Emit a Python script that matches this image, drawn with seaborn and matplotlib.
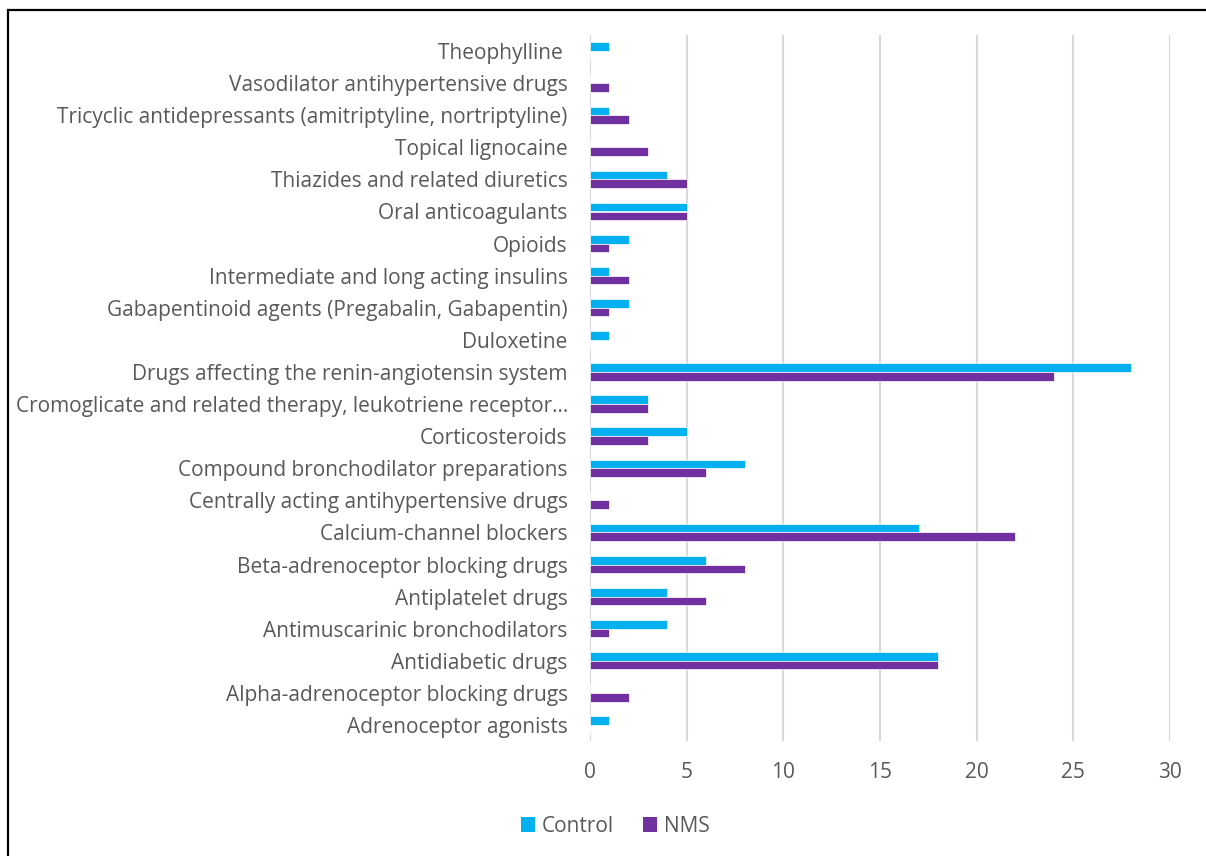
import matplotlib
matplotlib.use("Agg")
import matplotlib.pyplot as plt
from matplotlib.patches import Patch, Rectangle
import seaborn as sns
import pandas as pd

categories = [
    "Theophylline ",
    "Vasodilator antihypertensive drugs",
    "Tricyclic antidepressants (amitriptyline, nortriptyline)",
    "Topical lignocaine",
    "Thiazides and related diuretics",
    "Oral anticoagulants",
    "Opioids",
    "Intermediate and long acting insulins",
    "Gabapentinoid agents (Pregabalin, Gabapentin)",
    "Duloxetine",
    "Drugs affecting the renin-angiotensin system",
    "Cromoglicate and related therapy, leukotriene receptor…",
    "Corticosteroids",
    "Compound bronchodilator preparations",
    "Centrally acting antihypertensive drugs",
    "Calcium-channel blockers",
    "Beta-adrenoceptor blocking drugs",
    "Antiplatelet drugs",
    "Antimuscarinic bronchodilators",
    "Antidiabetic drugs",
    "Alpha-adrenoceptor blocking drugs",
    "Adrenoceptor agonists",
]
control = [1, 0, 1, 0, 4, 5, 2, 1, 2, 1, 28, 3, 5, 8, 0, 17, 6, 4, 4, 18, 0, 1]
nms = [0, 1, 2, 3, 5, 5, 1, 2, 1, 0, 24, 3, 3, 6, 1, 22, 8, 6, 1, 18, 2, 0]
series = ["Control", "NMS"]
colors = ["#00B0F0", "#7030A0"]
x_ticks = [0, 5, 10, 15, 20, 25, 30]

df = pd.DataFrame({
    "category": categories * 2,
    "group": ["Control"] * len(categories) + ["NMS"] * len(categories),
    "value": control + nms,
})

sns.set_theme(style="white")
plt.rcParams["font.family"] = ["Open Sans", "DejaVu Sans"]
text_color = "#595959"
fs = 15

fig = plt.figure(figsize=(12.06, 8.56), dpi=100)
ax = fig.add_axes([590 / 1206, 1 - 741 / 856, 580 / 1206, 706 / 856])

sns.barplot(
    data=df, y="category", x="value", hue="group", order=categories,
    hue_order=series, palette=colors, orient="h", width=0.54, ax=ax,
    legend=False, edgecolor="white", linewidth=0.5, saturation=1,
)

ax.set_xlim(0, 30)
ax.set_xticks(x_ticks)
ax.set_ylim(len(categories) - 0.5, -0.5)
ax.set_xlabel("")
ax.set_ylabel("")
for s in ax.spines.values():
    s.set_visible(False)
ax.grid(axis="x", color="#D9D9D9", linewidth=1.5)
ax.grid(axis="y", visible=False)
ax.set_axisbelow(True)
ax.tick_params(axis="y", length=0, pad=16, labelsize=fs, labelcolor=text_color)
ax.tick_params(axis="x", length=0, pad=15, labelsize=fs, labelcolor=text_color)

handles = [Patch(facecolor=c, edgecolor="none") for c in colors]
fig.legend(
    handles, series, loc="center", bbox_to_anchor=(615 / 1206, 1 - 826 / 856),
    ncol=2, frameon=False, handlelength=0.7, handleheight=0.7,
    handletextpad=0.3, columnspacing=1.4, fontsize=fs, labelcolor=text_color,
)

# outer frame
fig.patches.append(Rectangle((8 / 1206, -0.01), 1.05, 1 - 10 / 856 + 0.01,
                             transform=fig.transFigure, fill=False,
                             edgecolor="black", linewidth=1.6))

fig.savefig("out.png", dpi=100)
